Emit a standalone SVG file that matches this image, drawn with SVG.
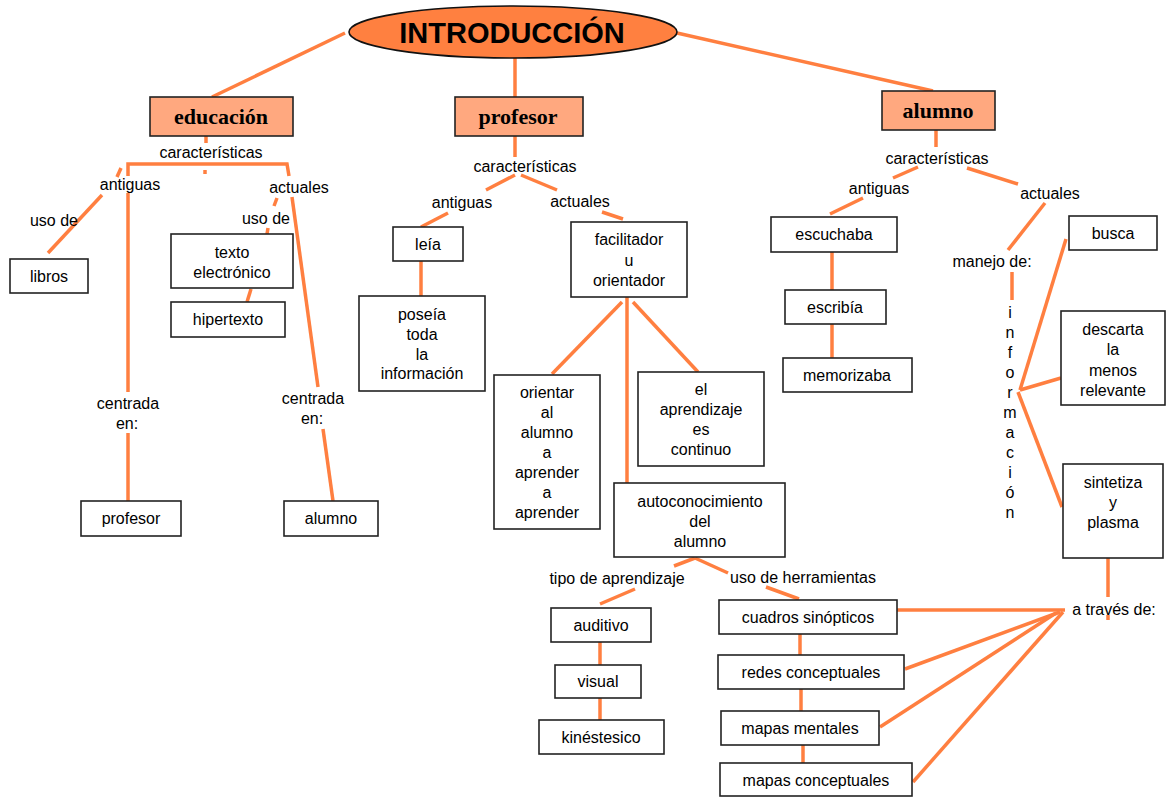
<svg xmlns="http://www.w3.org/2000/svg" width="1166" height="797" viewBox="0 0 1166 797">
<style>
.bg{fill:#ffffff}
.c line,.c path{stroke:#ff7f40;stroke-width:3.5;fill:none;stroke-linecap:butt}
.box{fill:#ffffff;stroke:#222;stroke-width:1.6}
.hbox{fill:#ffa87f;stroke:#222;stroke-width:1.6}
.t{font-family:"Liberation Sans",Arial,sans-serif;font-size:16px;fill:#000;text-anchor:middle}
.h{font-family:"Liberation Serif","Times New Roman",serif;font-size:22px;font-weight:bold;fill:#000;text-anchor:middle}
.big{font-family:"Liberation Sans",Arial,sans-serif;font-size:29px;font-weight:bold;fill:#000;text-anchor:middle}
</style>
<rect class="bg" x="0" y="0" width="1166" height="797"/>
<g class="c" id="connectors">
<line x1="345" y1="33" x2="212" y2="97"/>
<line x1="515" y1="58" x2="515" y2="97"/>
<line x1="677" y1="33" x2="933" y2="91"/>
<line x1="206" y1="136" x2="206" y2="143"/>
<path d="M128,176 L128,164 L287,164 L289,176" stroke-width="3"/>
<line x1="117" y1="177" x2="121" y2="168" stroke-width="2"/>
<line x1="205" y1="170" x2="205" y2="174" stroke-width="3"/>
<line x1="102" y1="195" x2="48" y2="253"/>
<line x1="128" y1="193" x2="128" y2="392"/>
<line x1="128" y1="433" x2="128" y2="501"/>
<line x1="277" y1="198" x2="274" y2="206"/>
<line x1="268" y1="228" x2="267" y2="234"/>
<line x1="251" y1="289" x2="247" y2="302"/>
<line x1="292" y1="197" x2="318" y2="387"/>
<line x1="323" y1="429" x2="333" y2="501"/>
<line x1="515" y1="136" x2="515" y2="157"/>
<line x1="515" y1="175" x2="486" y2="190"/>
<line x1="521" y1="175" x2="557" y2="190"/>
<line x1="448" y1="213" x2="421" y2="227"/>
<line x1="602" y1="212" x2="623" y2="219"/>
<line x1="421" y1="261" x2="421" y2="296"/>
<line x1="622" y1="302" x2="552" y2="374"/>
<line x1="627" y1="297" x2="627" y2="483"/>
<line x1="633" y1="302" x2="698" y2="372"/>
<line x1="695" y1="558" x2="674" y2="566"/>
<line x1="695" y1="558" x2="728" y2="573"/>
<line x1="635" y1="589" x2="600" y2="604"/>
<line x1="600" y1="642" x2="600" y2="665"/>
<line x1="600" y1="698" x2="600" y2="720"/>
<line x1="766" y1="587" x2="799" y2="599"/>
<line x1="800" y1="634" x2="800" y2="655"/>
<line x1="801" y1="689" x2="801" y2="711"/>
<line x1="803" y1="745" x2="803" y2="763"/>
<line x1="897" y1="610" x2="1065" y2="610"/>
<line x1="1060" y1="612" x2="905" y2="669"/>
<line x1="1056" y1="613" x2="880" y2="727"/>
<line x1="1063" y1="612" x2="913" y2="782"/>
<line x1="1108" y1="558" x2="1108" y2="597"/>
<line x1="1108" y1="615" x2="1108" y2="620" stroke-width="2.5"/>
<line x1="936" y1="130" x2="936" y2="147"/>
<line x1="918" y1="167" x2="893" y2="178"/>
<line x1="967" y1="168" x2="1018" y2="184"/>
<line x1="863" y1="198" x2="830" y2="214"/>
<line x1="832" y1="252" x2="832" y2="290"/>
<line x1="832" y1="324" x2="832" y2="358"/>
<line x1="1045" y1="203" x2="1008" y2="250"/>
<line x1="1012" y1="272" x2="1012" y2="300"/>
<line x1="1066" y1="239" x2="1020" y2="390"/>
<line x1="1020" y1="390" x2="1061" y2="378"/>
<line x1="1018" y1="392" x2="1062" y2="507"/>
</g>
<g id="introduccion">
<ellipse cx="513" cy="32" rx="164" ry="26" fill="#ff8040" stroke="#111" stroke-width="1.6"/>
<text class="big" x="512" y="43">INTRODUCCIÓN</text>
</g>
<g id="educacion"><rect class="hbox" x="150" y="97" width="143" height="39"/><text class="h" x="221" y="124">educación</text></g>
<g id="profesor"><rect class="hbox" x="455" y="97" width="128" height="39"/><text class="h" x="518" y="124">profesor</text></g>
<g id="alumno"><rect class="hbox" x="882" y="91" width="113" height="39"/><text class="h" x="938" y="118">alumno</text></g>
<g id="labels-educacion">
<text class="t" x="211" y="158">características</text>
<text class="t" x="130" y="190">antiguas</text>
<text class="t" x="299" y="193">actuales</text>
<text class="t" x="54" y="226">uso de</text>
<text class="t" x="266" y="224">uso de</text>
<text class="t" x="128" y="409">centrada</text>
<text class="t" x="127" y="429">en:</text>
<text class="t" x="313" y="404">centrada</text>
<text class="t" x="312" y="424">en:</text>
</g>
<g id="libros"><rect class="box" x="10" y="259" width="78" height="34"/><text class="t" x="49" y="282">libros</text></g>
<g id="texto-electronico"><rect class="box" x="171" y="234" width="122" height="54"/><text class="t" x="232" y="258">texto</text><text class="t" x="232" y="278">electrónico</text></g>
<g id="hipertexto"><rect class="box" x="171" y="302" width="114" height="35"/><text class="t" x="228" y="325">hipertexto</text></g>
<g id="centrada-profesor"><rect class="box" x="81" y="501" width="100" height="35"/><text class="t" x="131" y="524">profesor</text></g>
<g id="centrada-alumno"><rect class="box" x="284" y="501" width="94" height="35"/><text class="t" x="331" y="524">alumno</text></g>
<g id="labels-profesor">
<text class="t" x="525" y="172">características</text>
<text class="t" x="462" y="208">antiguas</text>
<text class="t" x="580" y="207">actuales</text>
</g>
<g id="leia"><rect class="box" x="393" y="227" width="70" height="34"/><text class="t" x="428" y="250">leía</text></g>
<g id="poseia"><rect class="box" x="359" y="296" width="126" height="95"/><text class="t" x="422" y="320">poseía</text><text class="t" x="422" y="340">toda</text><text class="t" x="422" y="360">la</text><text class="t" x="422" y="379">información</text></g>
<g id="facilitador"><rect class="box" x="571" y="222" width="116" height="75"/><text class="t" x="629" y="245">facilitador</text><text class="t" x="629" y="266">u</text><text class="t" x="629" y="286">orientador</text></g>
<g id="orientar"><rect class="box" x="494" y="375" width="106" height="154"/><text class="t" x="547" y="398">orientar</text><text class="t" x="547" y="418">al</text><text class="t" x="547" y="438">alumno</text><text class="t" x="547" y="458">a</text><text class="t" x="547" y="478">aprender</text><text class="t" x="547" y="498">a</text><text class="t" x="547" y="518">aprender</text></g>
<g id="aprendizaje-continuo"><rect class="box" x="638" y="372" width="126" height="94"/><text class="t" x="701" y="395">el</text><text class="t" x="701" y="415">aprendizaje</text><text class="t" x="701" y="435">es</text><text class="t" x="701" y="455">continuo</text></g>
<g id="autoconocimiento"><rect class="box" x="614" y="483" width="171" height="74"/><text class="t" x="700" y="507">autoconocimiento</text><text class="t" x="700" y="527">del</text><text class="t" x="700" y="547">alumno</text></g>
<g id="labels-autoconocimiento">
<text class="t" x="617" y="584">tipo de aprendizaje</text>
<text class="t" x="803" y="583">uso de herramientas</text>
</g>
<g id="auditivo"><rect class="box" x="551" y="608" width="100" height="34"/><text class="t" x="601" y="631">auditivo</text></g>
<g id="visual"><rect class="box" x="555" y="665" width="86" height="33"/><text class="t" x="598" y="687">visual</text></g>
<g id="kinestesico"><rect class="box" x="539" y="720" width="125" height="34"/><text class="t" x="601" y="743">kinéstesico</text></g>
<g id="cuadros"><rect class="box" x="719" y="600" width="178" height="34"/><text class="t" x="808" y="623">cuadros sinópticos</text></g>
<g id="redes"><rect class="box" x="718" y="655" width="186" height="34"/><text class="t" x="811" y="678">redes conceptuales</text></g>
<g id="mapas-mentales"><rect class="box" x="721" y="711" width="158" height="34"/><text class="t" x="800" y="734">mapas mentales</text></g>
<g id="mapas-conceptuales"><rect class="box" x="720" y="763" width="192" height="33"/><text class="t" x="816" y="786">mapas conceptuales</text></g>
<g id="a-traves"><text class="t" x="1114" y="615">a través de:</text></g>
<g id="labels-alumno">
<text class="t" x="937" y="164">características</text>
<text class="t" x="879" y="194">antiguas</text>
<text class="t" x="1050" y="199">actuales</text>
<text class="t" x="992" y="267">manejo de:</text>
</g>
<g id="informacion">
<text class="t" x="1010" y="318">i</text><text class="t" x="1010" y="338">n</text><text class="t" x="1010" y="358">f</text><text class="t" x="1010" y="378">o</text><text class="t" x="1010" y="398">r</text><text class="t" x="1010" y="418">m</text><text class="t" x="1010" y="438">a</text><text class="t" x="1010" y="458">c</text><text class="t" x="1010" y="478">i</text><text class="t" x="1010" y="498">ó</text><text class="t" x="1010" y="518">n</text>
</g>
<g id="escuchaba"><rect class="box" x="771" y="217" width="126" height="35"/><text class="t" x="834" y="240">escuchaba</text></g>
<g id="escribia"><rect class="box" x="785" y="290" width="101" height="34"/><text class="t" x="835" y="313">escribía</text></g>
<g id="memorizaba"><rect class="box" x="783" y="358" width="129" height="34"/><text class="t" x="847" y="381">memorizaba</text></g>
<g id="busca"><rect class="box" x="1069" y="216" width="88" height="34"/><text class="t" x="1113" y="239">busca</text></g>
<g id="descarta"><rect class="box" x="1061" y="311" width="104" height="94"/><text class="t" x="1113" y="335">descarta</text><text class="t" x="1113" y="355">la</text><text class="t" x="1113" y="376">menos</text><text class="t" x="1113" y="396">relevante</text></g>
<g id="sintetiza"><rect class="box" x="1063" y="464" width="100" height="94"/><text class="t" x="1113" y="488">sintetiza</text><text class="t" x="1113" y="508">y</text><text class="t" x="1113" y="528">plasma</text></g>
</svg>
